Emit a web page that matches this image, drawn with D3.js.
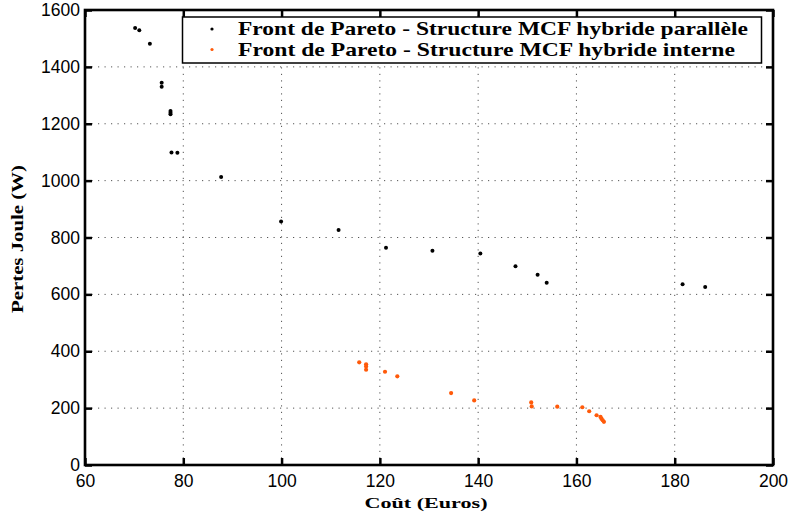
<!DOCTYPE html>
<html><head><meta charset="utf-8">
<script src="https://cdn.jsdelivr.net/npm/d3@7"></script>
<style>body{margin:0;background:#fff}svg{display:block}</style>
</head><body><div id="chart"></div>
<script>
// Data
const xTicks = [60, 80, 100, 120, 140, 160, 180, 200];
const yTicks = [0, 200, 400, 600, 800, 1000, 1200, 1400, 1600];
const seriesNames = ["Front de Pareto - Structure MCF hybride parallèle", "Front de Pareto - Structure MCF hybride interne"];
const seriesColors = ["#000000", "#ff5a0a"];
const parallelCost = [70.2, 71.05, 73.2, 75.6, 75.6, 77.4, 77.4, 77.4, 77.6, 78.8, 87.7, 99.9, 111.6, 121.25, 130.7, 140.45, 147.6, 152.1, 153.95, 181.6, 186.2];
const parallelLoss = [1537, 1529, 1481, 1344, 1330, 1245, 1239, 1233, 1099, 1098, 1013, 856, 826, 764, 753, 744, 699, 669, 641, 636, 626];
const interneCost = [115.8, 117.2, 117.2, 117.2, 121.05, 123.55, 134.5, 139.2, 150.8, 150.9, 156.1, 161.2, 162.6, 164.1, 164.9, 165.1, 165.35, 165.6];
const interneLoss = [361, 354, 346, 335, 328, 312, 253, 227, 220, 206, 205, 203, 189, 175, 169, 163, 157, 152];

const W = 793, H = 515;
const m = {left: 85, right: 20, top: 10, bottom: 50};
const svg = d3.select("#chart").append("svg").attr("width", W).attr("height", H);
const x = d3.scaleLinear().domain([60, 200]).range([m.left, W - m.right]);
const y = d3.scaleLinear().domain([0, 1600]).range([H - m.bottom, m.top]);

// grid
const grid = svg.append("g").attr("stroke", "#555").attr("stroke-width", 1).attr("stroke-dasharray", "1.2,5.3");
xTicks.slice(1, -1).forEach(t => grid.append("line").attr("x1", x(t)).attr("x2", x(t)).attr("y1", y(0)).attr("y2", y(1600)));
yTicks.slice(1, -1).forEach(t => grid.append("line").attr("x1", x(60)).attr("x2", x(200)).attr("y1", y(t)).attr("y2", y(t)));

// axes
const tickFont = "'Liberation Sans', Arial, sans-serif";
const xAxis = svg.append("g").attr("transform", `translate(0,${y(0)})`)
  .call(d3.axisBottom(x).tickValues(xTicks).tickSize(-7).tickPadding(10).tickFormat(d3.format("d")));
const xAxisTop = svg.append("g").attr("transform", `translate(0,${y(1600)})`)
  .call(d3.axisTop(x).tickValues(xTicks).tickSize(-7).tickFormat(""));
const yAxis = svg.append("g").attr("transform", `translate(${x(60)},0)`)
  .call(d3.axisLeft(y).tickValues(yTicks).tickSize(-7).tickPadding(5).tickFormat(d3.format("d")));
const yAxisR = svg.append("g").attr("transform", `translate(${x(200)},0)`)
  .call(d3.axisRight(y).tickValues(yTicks).tickSize(-7).tickFormat(""));
[xAxis, xAxisTop, yAxis, yAxisR].forEach(a => {
  a.select(".domain").remove();
  a.selectAll(".tick line").attr("stroke", "#000").attr("stroke-width", 2.5);
  a.selectAll("text").attr("fill", "#000").style("font-family", tickFont).style("font-size", "17.5px");
});
xAxis.selectAll("text").attr("dy", "0.71em");

// frame
svg.append("rect").attr("x", x(60)).attr("y", y(1600)).attr("width", x(200) - x(60)).attr("height", y(0) - y(1600))
  .attr("fill", "none").attr("stroke", "#000").attr("stroke-width", 2.6);

// points
svg.append("g").selectAll("circle").data(d3.range(parallelCost.length)).join("circle")
  .attr("cx", i => x(parallelCost[i])).attr("cy", i => y(parallelLoss[i])).attr("r", 2).attr("fill", seriesColors[0]);
svg.append("g").selectAll("circle").data(d3.range(interneCost.length)).join("circle")
  .attr("cx", i => x(interneCost[i])).attr("cy", i => y(interneLoss[i])).attr("r", 2.1).attr("fill", seriesColors[1]);

// labels
const serif = "'Liberation Serif', 'DejaVu Serif', serif";
svg.append("text").attr("x", 426).attr("y", 508).attr("text-anchor", "middle")
  .style("font-family", serif).style("font-weight", "bold").style("font-size", "15px")
  .attr("textLength", 123).attr("lengthAdjust", "spacingAndGlyphs").text("Coût (Euros)");
svg.append("text").attr("transform", "translate(23,239) rotate(-90)").attr("text-anchor", "middle")
  .style("font-family", serif).style("font-weight", "bold").style("font-size", "16px")
  .attr("textLength", 148).attr("lengthAdjust", "spacingAndGlyphs").text("Pertes Joule (W)");

// legend
const lg = svg.append("g");
lg.append("rect").attr("x", 182.5).attr("y", 17).attr("width", 579).attr("height", 46)
  .attr("fill", "#fff").attr("stroke", "#000").attr("stroke-width", 1.5);
const legendLens = [510, 497];
seriesNames.forEach((name, i) => {
  const yy = 35 + i * 20.5;
  lg.append("circle").attr("cx", 212).attr("cy", yy - 6).attr("r", 1.6).attr("fill", seriesColors[i]);
  lg.append("text").attr("x", 238).attr("y", yy)
    .style("font-family", serif).style("font-weight", "bold").style("font-size", "19px")
    .attr("textLength", legendLens[i]).attr("lengthAdjust", "spacingAndGlyphs").text(name);
});
</script></body></html>
